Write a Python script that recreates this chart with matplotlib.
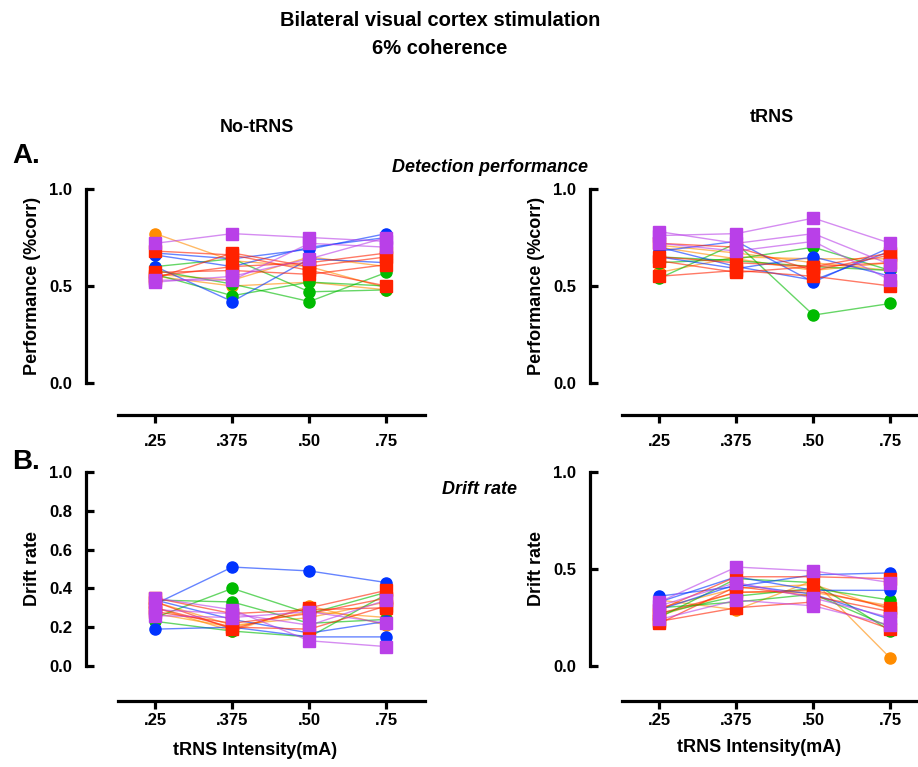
import numpy as np
import matplotlib
matplotlib.use("Agg")
import matplotlib.pyplot as plt

plt.rcParams['font.family'] = ['Liberation Sans Narrow', 'Liberation Sans', 'DejaVu Sans']
plt.rcParams['font.weight'] = 'bold'

intensities = ['.25', '.375', '.50', '.75']

colors = {'orange': '#FF8C00', 'green': '#00BB00', 'blue': '#0033FF',
          'red': '#FF2200', 'purple': '#B940E8'}
markers = {'orange': 'o', 'green': 'o', 'blue': 'o', 'red': 's', 'purple': 's'}

# detection performance, No-tRNS
perf_nt_orange = [[0.77, 0.63, 0.60, 0.49], [0.55, 0.50, 0.52, 0.48], [0.56, 0.53, 0.65, 0.60]]
perf_nt_green = [[0.58, 0.51, 0.42, 0.57], [0.60, 0.64, 0.47, 0.48], [0.56, 0.45, 0.52, 0.50]]
perf_nt_blue = [[0.67, 0.64, 0.69, 0.77], [0.60, 0.42, 0.64, 0.62], [0.66, 0.60, 0.70, 0.75]]
perf_nt_red = [[0.68, 0.66, 0.58, 0.50], [0.55, 0.60, 0.62, 0.67], [0.54, 0.67, 0.60, 0.65], [0.57, 0.58, 0.56, 0.61]]
perf_nt_purple = [[0.72, 0.77, 0.75, 0.73], [0.52, 0.55, 0.64, 0.75], [0.53, 0.53, 0.72, 0.70]]

# detection performance, tRNS
perf_t_orange = [[0.57, 0.65, 0.64, 0.64], [0.71, 0.67, 0.62, 0.58], [0.70, 0.64, 0.58, 0.62]]
perf_t_green = [[0.54, 0.72, 0.35, 0.41], [0.62, 0.64, 0.70, 0.58], [0.65, 0.63, 0.60, 0.58]]
perf_t_blue = [[0.68, 0.73, 0.52, 0.70], [0.65, 0.59, 0.65, 0.55], [0.70, 0.60, 0.53, 0.68]]
perf_t_red = [[0.55, 0.58, 0.55, 0.50], [0.65, 0.62, 0.60, 0.67], [0.72, 0.70, 0.58, 0.66], [0.63, 0.57, 0.60, 0.62]]
perf_t_purple = [[0.76, 0.77, 0.85, 0.72], [0.78, 0.72, 0.77, 0.61], [0.72, 0.68, 0.73, 0.53]]

# drift rate, No-tRNS
drift_nt_orange = [[0.30, 0.18, 0.31, 0.21], [0.27, 0.20, 0.28, 0.25], [0.33, 0.21, 0.25, 0.33]]
drift_nt_green = [[0.25, 0.40, 0.27, 0.38], [0.34, 0.33, 0.22, 0.24], [0.23, 0.18, 0.15, 0.37]]
drift_nt_blue = [[0.32, 0.51, 0.49, 0.43], [0.19, 0.20, 0.15, 0.15], [0.34, 0.24, 0.17, 0.23]]
drift_nt_red = [[0.33, 0.19, 0.30, 0.39], [0.30, 0.20, 0.19, 0.31], [0.28, 0.22, 0.27, 0.35], [0.35, 0.27, 0.29, 0.30]]
drift_nt_purple = [[0.35, 0.29, 0.13, 0.10], [0.26, 0.25, 0.28, 0.22], [0.29, 0.27, 0.21, 0.34]]

# drift rate, tRNS
drift_t_orange = [[0.34, 0.29, 0.44, 0.04], [0.30, 0.40, 0.42, 0.29], [0.26, 0.38, 0.38, 0.31]]
drift_t_green = [[0.25, 0.45, 0.43, 0.18], [0.27, 0.36, 0.40, 0.34], [0.30, 0.33, 0.37, 0.20]]
drift_t_blue = [[0.36, 0.41, 0.47, 0.48], [0.33, 0.46, 0.39, 0.39], [0.29, 0.42, 0.37, 0.24]]
drift_t_red = [[0.29, 0.46, 0.46, 0.45], [0.23, 0.30, 0.33, 0.19], [0.22, 0.41, 0.36, 0.28], [0.27, 0.38, 0.39, 0.30]]
drift_t_purple = [[0.33, 0.51, 0.49, 0.43], [0.24, 0.34, 0.31, 0.21], [0.31, 0.43, 0.35, 0.25]]


def draw_panel(ax, groups, yticks, ylabel, xpad):
    x = np.arange(len(intensities))
    for name, series in groups:
        for s in series:
            ax.plot(x, s, color=colors[name], lw=1.0, alpha=0.6, zorder=2)
    for name, series in groups:
        for s in series:
            ms = 8.5 if markers[name] == 's' else 8
            ax.plot(x, s, ls='none', marker=markers[name], ms=ms, color=colors[name],
                    mec=colors[name], zorder=3)
    ax.set_xlim(-0.9, 3.5)
    ax.set_ylim(0, 1)
    for sp in ['top', 'right']:
        ax.spines[sp].set_visible(False)
    ax.spines['left'].set_linewidth(2.3)
    ax.spines['bottom'].set_linewidth(2.3)
    ax.spines['bottom'].set_position(('outward', 23))
    ax.spines['bottom'].set_bounds(-0.48, 3.5)
    ax.spines['left'].set_bounds(0, 1)
    ax.set_xticks(x)
    ax.set_xticklabels(intensities)
    ax.set_yticks(yticks)
    ax.set_yticklabels(['%.1f' % v for v in yticks])
    ax.tick_params(axis='y', direction='in', length=6, width=2.3, pad=10, labelsize=12)
    ax.tick_params(axis='x', direction='out', length=6, width=2.3, pad=xpad, labelsize=12)
    ax.set_ylabel(ylabel, fontsize=13, fontweight='bold', labelpad=6)
    ax.patch.set_alpha(0)


fig = plt.figure(figsize=(9.18, 7.67), dpi=100)
W, H = 918, 767

def add_ax(left, top, right, bottom):
    return fig.add_axes([left / W, 1 - bottom / H, (right - left) / W, (bottom - top) / H])

ax1 = add_ax(86, 189, 425, 383)
ax2 = add_ax(590, 189, 929, 383)
ax3 = add_ax(86, 472, 425, 666)
ax4 = add_ax(590, 472, 929, 666)

draw_panel(ax1, [('orange', perf_nt_orange), ('green', perf_nt_green), ('blue', perf_nt_blue),
                 ('red', perf_nt_red), ('purple', perf_nt_purple)],
           [0, 0.5, 1.0], 'Performance (%corr)', 8)
draw_panel(ax2, [('orange', perf_t_orange), ('green', perf_t_green), ('blue', perf_t_blue),
                 ('red', perf_t_red), ('purple', perf_t_purple)],
           [0, 0.5, 1.0], 'Performance (%corr)', 8)
draw_panel(ax3, [('orange', drift_nt_orange), ('green', drift_nt_green), ('blue', drift_nt_blue),
                 ('red', drift_nt_red), ('purple', drift_nt_purple)],
           [0, 0.2, 0.4, 0.6, 0.8, 1.0], 'Drift rate', 3)
draw_panel(ax4, [('orange', drift_t_orange), ('green', drift_t_green), ('blue', drift_t_blue),
                 ('red', drift_t_red), ('purple', drift_t_purple)],
           [0, 0.5, 1.0], 'Drift rate', 3)
ax3.spines['bottom'].set_position(('outward', 25))
ax4.spines['bottom'].set_position(('outward', 25))
ax3.set_xlabel('tRNS Intensity(mA)', fontsize=13, fontweight='bold', labelpad=10)
ax4.set_xlabel('tRNS Intensity(mA)', fontsize=13, fontweight='bold', labelpad=8)

fig.text(440 / W, 1 - 20 / H, 'Bilateral visual cortex stimulation', ha='center', va='center',
         fontsize=14.5, fontweight='bold')
fig.text(440 / W, 1 - 48 / H, '6% coherence', ha='center', va='center',
         fontsize=14.5, fontweight='bold')
fig.text(257 / W, 1 - 127 / H, 'No-tRNS', ha='center', va='center', fontsize=13, fontweight='bold')
fig.text(772 / W, 1 - 118 / H, 'tRNS', ha='center', va='center', fontsize=13, fontweight='bold')
fig.text(26 / W, 1 - 156 / H, 'A.', ha='center', va='center', fontsize=20, fontweight='bold')
fig.text(26 / W, 1 - 462 / H, 'B.', ha='center', va='center', fontsize=20, fontweight='bold')
fig.text(490 / W, 1 - 168 / H, 'Detection performance', ha='center', va='center',
         fontsize=13, fontweight='bold', style='italic')
fig.text(480 / W, 1 - 490 / H, 'Drift rate', ha='center', va='center',
         fontsize=13, fontweight='bold', style='italic')

fig.savefig('out.png', dpi=100)
